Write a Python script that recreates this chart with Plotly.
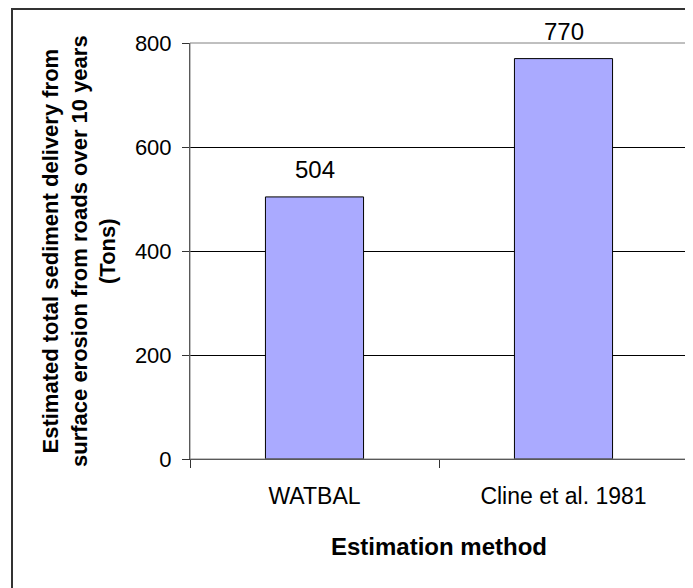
import plotly.graph_objects as go

# ── Data ──────────────────────────────────────────────────────────────────────
methods = ["WATBAL", "Cline et al. 1981"]
sediment_tons = [504, 770]
y_ticks = [0, 200, 400, 600, 800]

FONT = "Liberation Sans, Arial, sans-serif"
BAR_FILL = "#AAAAFF"

# page body has an 8px margin, so work in window pixels and shift
OFF = 8
W, H = 693, 588
PL, PR, PT, PB = 190, 688, 43, 459   # plot area in window pixels
L, T = PL - OFF, PT - OFF
R, B = W - (PR - OFF), H - (PB - OFF)
plot_w = PR - PL
plot_h = PB - PT


def px_x(px):
    return (px - PL) / plot_w


def px_y(py):
    return 1 - (py - PT) / plot_h


fig = go.Figure()
fig.add_trace(go.Bar(
    x=methods,
    y=sediment_tons,
    marker=dict(color=BAR_FILL, line=dict(color="black", width=1)),
    width=0.394,
    hoverinfo="x+y",
))

# value labels above bars
for m, v in zip(methods, sediment_tons):
    fig.add_annotation(
        x=m, y=v, text=str(v),
        showarrow=False, yanchor="bottom", yshift=12,
        font=dict(family=FONT, size=24, color="black"),
    )

# axis titles
fig.add_annotation(
    text="<b>Estimated total sediment delivery from<br>"
         "surface erosion from roads over 10 years<br>(Tons)</b>",
    xref="paper", yref="paper", x=px_x(79), y=0.5,
    xanchor="center", yanchor="middle", textangle=-90,
    showarrow=False, align="center",
    font=dict(family=FONT, size=22, color="black"),
)
fig.add_annotation(
    text="<b>Estimation method</b>",
    xref="paper", yref="paper", x=0.5, y=px_y(546),
    xanchor="center", yanchor="middle", showarrow=False,
    font=dict(family=FONT, size=24, color="black"),
)

# plot-area border (top / right) and outer chart frame (left / top visible)
fig.add_shape(type="rect", xref="paper", yref="paper",
              x0=0, x1=1, y0=0, y1=1,
              line=dict(color="#808080", width=1), layer="above")
fig.add_shape(type="rect", xref="paper", yref="paper",
              x0=px_x(12), x1=px_x(760), y0=px_y(700), y1=px_y(OFF + 1),
              line=dict(color="#333333", width=2), layer="above")

fig.update_layout(
    width=W, height=H,
    paper_bgcolor="white", plot_bgcolor="white",
    margin=dict(l=L, r=R, t=T, b=B),
    showlegend=False,
    font=dict(family=FONT, color="black"),
    xaxis=dict(
        type="category",
        tickson="boundaries",
        ticks="outside", ticklen=8, tickcolor="#333333",
        showline=True, linecolor="#333333", linewidth=1,
        showgrid=False,
        ticklabelstandoff=16,
        tickfont=dict(family=FONT, size=23, color="black"),
        range=[-0.5, 1.5],
    ),
    yaxis=dict(
        range=[0, 800],
        tickvals=y_ticks,
        ticks="outside", ticklen=7, tickcolor="#333333",
        showline=True, linecolor="#333333", linewidth=1,
        showgrid=True, gridcolor="black", gridwidth=1,
        zeroline=False,
        ticklabelstandoff=6,
        tickfont=dict(family=FONT, size=22, color="black"),
    ),
)

fig.write_html("out.html")
